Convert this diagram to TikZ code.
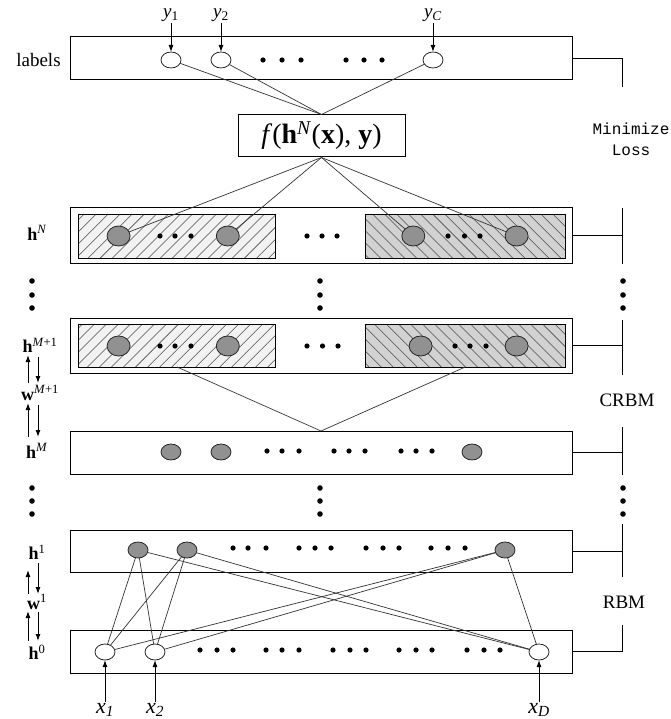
\documentclass[tikz,border=0pt]{standalone}
\usepackage{fontspec}
\setmainfont{Liberation Serif}
\newfontfamily\monofont{Liberation Mono}
\usetikzlibrary{arrows.meta,patterns.meta,shapes.geometric}
\definecolor{nodegray}{RGB}{145,145,145}
\definecolor{hatchlight}{RGB}{242,242,242}
\definecolor{hatchdark}{RGB}{210,210,210}
\begin{document}
\begin{tikzpicture}[x=1pt,y=-1pt,
  layerbox/.style={draw, line width=1pt, minimum width=502pt, inner sep=0pt, outer sep=0pt},
  hatchbox/.style={draw, line width=1pt, inner sep=0pt, outer sep=0pt, minimum height=43pt},
  hatchL/.style={hatchbox, minimum width=197pt, preaction={fill=hatchlight},
     pattern={Lines[angle=45,distance=8.5pt,line width=0.55pt]}, pattern color=black!70},
  hatchR/.style={hatchbox, minimum width=200pt, preaction={fill=hatchdark},
     pattern={Lines[angle=-45,distance=8.5pt,line width=0.55pt]}, pattern color=black!70},
  unit/.style={ellipse, draw=black!85, line width=0.8pt, inner sep=0pt, outer sep=0pt,
     minimum width=20pt, minimum height=16pt},
  vis/.style={unit, fill=white},
  hid/.style={unit, fill=nodegray},
  bighid/.style={hid, minimum width=23pt, minimum height=20pt},
  conn/.style={draw=black!80, line width=0.7pt},
  inarrow/.style={draw, line width=1pt, -{Latex[length=7pt,width=5pt]}},
  bracket/.style={draw, line width=1pt},
  lab/.style={font=\fontsize{19}{22}\selectfont, inner sep=0pt},
  sidelab/.style={font=\fontsize{18}{20}\selectfont, inner sep=0pt},
  varlab/.style={font=\fontsize{19}{22}\selectfont, inner sep=1pt},
  xlab/.style={font=\fontsize{22}{24}\selectfont, inner sep=1pt}
]
\useasboundingbox (0,0) rectangle (670,719);

% ---------- layer boxes ----------
\node[layerbox, minimum height=43pt] (Lbox) at (321,58.5) {};
\node[layerbox, minimum height=55pt] (hNbox) at (321,235.5) {};
\node[hatchL] (hNl) at (177,236.5) {};
\node[hatchR] (hNr) at (465.25,236.5) {};
\node[layerbox, minimum height=55pt] (hMpbox) at (321,345.5) {};
\node[hatchL] (hMpl) at (177,345.5) {};
\node[hatchR] (hMpr) at (465.25,345.5) {};
\node[layerbox, minimum height=43pt] (hMbox) at (321,452.5) {};
\node[layerbox, minimum height=42pt] (h1box) at (321,551) {};
\node[layerbox, minimum height=43pt] (h0box) at (321,651.5) {};

% ---------- f box ----------
\node[draw, line width=1pt, minimum width=167pt, minimum height=42pt, inner sep=0pt,
      font=\fontsize{28}{30}\selectfont] (f) at (321.5,136)
  {\textit{f}(\textbf{h}\textsuperscript{\textit{N}}(\textbf{x}), \textbf{y})};

% ---------- units ----------
\node[vis] (y1) at (171,60) {};
\node[vis] (y2) at (221,60) {};
\node[vis] (yC) at (433,60) {};

\node[bighid] (n1) at (118.6,236) {};
\node[bighid] (n2) at (227.8,236) {};
\node[bighid] (n3) at (413.3,236) {};
\node[bighid] (n4) at (516.6,236) {};

\node[bighid] (m1) at (118.6,346) {};
\node[bighid] (m2) at (227.8,346) {};
\node[bighid] (m3) at (420.6,346) {};
\node[bighid] (m4) at (516.6,346) {};

\node[hid] (k1) at (171,452) {};
\node[hid] (k2) at (221,452) {};
\node[hid] (k3) at (472,452) {};

\node[hid] (a1) at (138,550) {};
\node[hid] (a2) at (187,550) {};
\node[hid] (a3) at (505,550) {};

\node[vis] (v1) at (105,652) {};
\node[vis] (v2) at (155,652) {};
\node[vis] (vD) at (539,652) {};

% ---------- horizontal ellipses ----------
\foreach \x in {263,282,301,346,364,382} \fill (\x,60) circle[radius=2.6pt];
\foreach \x in {160,175,191,307,322,337,448,464.5,480} \fill (\x,236) circle[radius=2.6pt];
\foreach \x in {160,175,191,307,322.5,338,455,470,486} \fill (\x,346) circle[radius=2.6pt];
\foreach \x in {267,282,299,334,349,365,401,416,432} \fill (\x,451) circle[radius=2.6pt];
\foreach \x in {233,248,266,299,315,331,366,383,399,431,448,465} \fill (\x,548) circle[radius=2.6pt];
\foreach \x in {200,217,233,266,282,299,333,350,366,399,416,432,467,484,500} \fill (\x,650) circle[radius=2.6pt];

% ---------- vertical ellipses ----------
\foreach \x in {32,320,623} {
  \foreach \y in {281,295,308,488,501,514} \fill (\x,\y) circle[radius=2.8pt];
}

% ---------- connections ----------
\foreach \s in {y1,y2,yC} \draw[conn] (\s) -- (f.north);
\foreach \t in {n1,n2,n3,n4} \draw[conn] (f.south) -- (\t);
\draw[conn] (hMpl.south) -- (hMbox.north);
\draw[conn] (hMpr.south) -- (hMbox.north);
\foreach \s in {a1,a2,a3} {
  \foreach \t in {v1,v2,vD} \draw[conn] (\s) -- (\t);
}

% ---------- input / label arrows ----------
\node[varlab] (ly1) at (171,15) {\textit{y}\textsubscript{1}};
\node[varlab] (ly2) at (221,15) {\textit{y}\textsubscript{2}};
\node[varlab] (lyC) at (433,15) {\textit{y}\textsubscript{\textit{C}}};
\draw[inarrow] (ly1) -- (y1);
\draw[inarrow] (ly2) -- (y2);
\draw[inarrow] (lyC) -- (yC);

\node[xlab] (lx1) at (105,710) {\textit{x}\textsubscript{\textit{1}}};
\node[xlab] (lx2) at (155,710) {\textit{x}\textsubscript{\textit{2}}};
\node[xlab] (lxD) at (539,710) {\textit{x}\textsubscript{\textit{D}}};
\draw[inarrow] (lx1) -- (v1);
\draw[inarrow] (lx2) -- (v2);
\draw[inarrow] (lxD) -- (vD);

% ---------- left labels ----------
\node[lab] (tlabels) at (38.5,60) {labels};
\node[sidelab] (thN) at (37,233) {\textbf{h}\textsuperscript{\textit{N}}};
\node[sidelab] (thMp) at (40,345) {\textbf{h}\textsuperscript{\textit{M}+1}};
\node[sidelab] (twMp) at (40,393) {\textbf{w}\textsuperscript{\textit{M}+1}};
\node[sidelab] (thM) at (37,451) {\textbf{h}\textsuperscript{\textit{M}}};
\node[sidelab] (th1) at (37,552) {\textbf{h}\textsuperscript{1}};
\node[sidelab] (tw1) at (37,602) {\textbf{w}\textsuperscript{1}};
\node[sidelab] (th0) at (37,652) {\textbf{h}\textsuperscript{0}};

\draw[inarrow] (28,383) -- (28,355);
\draw[inarrow] (38,357) -- (38,383);
\draw[inarrow] (28,437) -- (28,403);
\draw[inarrow] (38,405) -- (38,437);
\draw[inarrow] (28,594) -- (28,570);
\draw[inarrow] (38,563) -- (38,594);
\draw[inarrow] (28,641) -- (28,611);
\draw[inarrow] (38,612) -- (38,641);

% ---------- right bracket ----------
\draw[bracket] (Lbox.east) -- (622,58.5) -- (622,87);
\node[font=\monofont\fontsize{16}{21}\selectfont, align=center, inner sep=0pt] (loss) at (631,139) {Minimize\\Loss};
\draw[bracket] (622,208) -- (622,264);
\draw[bracket] (hNbox.east) -- (622,235.5);
\draw[bracket] (622,320) -- (622,375);
\draw[bracket] (hMpbox.east) -- (622,345.5);
\node[lab] (crbm) at (627,400) {CRBM};
\draw[bracket] (622,427) -- (622,475);
\draw[bracket] (hMbox.east) -- (622,452.5);
\draw[bracket] (622,524) -- (622,577);
\draw[bracket] (h1box.east) -- (622,551);
\node[lab] (rbm) at (624,602) {RBM};
\draw[bracket] (622,625) -- (622,651.5);
\draw[bracket] (h0box.east) -- (622,651.5);
\end{tikzpicture}
\end{document}
